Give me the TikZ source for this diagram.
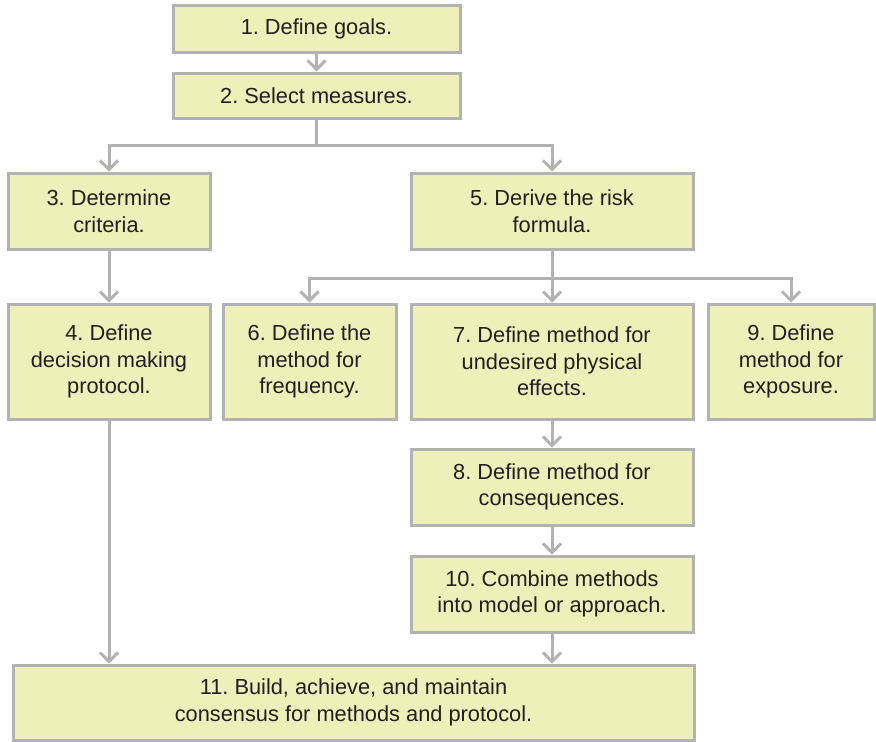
\documentclass[tikz,border=0pt]{standalone}
\usepackage{fontspec}
\setmainfont{Liberation Sans}
\usetikzlibrary{arrows.meta}
\definecolor{boxfill}{RGB}{238,240,185}
\definecolor{boxline}{RGB}{178,178,178}
\definecolor{inktext}{RGB}{35,31,32}
\frenchspacing
\begin{document}
\begin{tikzpicture}[x=1pt,y=-1pt,
  stepbox/.style={draw=boxline, line width=3pt, fill=boxfill, rectangle,
    inner sep=0pt, align=center, text=inktext,
    font=\fontsize{21.8}{26.5}\selectfont},
  link/.style={draw=boxline, line width=3pt},
  arrow/.style={link, -{Straight Barb[length=9pt,width=18pt]}}]
\useasboundingbox (0,0) rectangle (876,742);

% process steps
\node[stepbox, minimum width=287pt, minimum height=47pt] (s1) at (316.5,28.5) {1. Define goals.};
\node[stepbox, minimum width=287pt, minimum height=45pt] (s2) at (316.5,95.5) {2. Select measures.};
\node[stepbox, minimum width=202pt, minimum height=76pt] (s3) at (109,211) {3. Determine\\criteria.};
\node[stepbox, minimum width=282pt, minimum height=76pt] (s5) at (552,211) {5. Derive the risk\\formula.};
\node[stepbox, minimum width=202pt, minimum height=115pt] (s4) at (109,361.5) {4. Define\\decision making\\protocol.};
\node[stepbox, minimum width=173pt, minimum height=115pt] (s6) at (309.5,361.5) {6. Define the\\method for\\frequency.};
\node[stepbox, minimum width=282pt, minimum height=115pt] (s7) at (552,361.5) {7. Define method for\\undesired physical\\effects.};
\node[stepbox, minimum width=166pt, minimum height=115pt] (s9) at (791,361.5) {9. Define\\method for\\exposure.};
\node[stepbox, minimum width=282pt, minimum height=76pt] (s8) at (552,487) {8. Define method for\\consequences.};
\node[stepbox, minimum width=282pt, minimum height=76pt] (s10) at (552,594) {10. Combine methods\\into model or approach.};
\node[stepbox, minimum width=681pt, minimum height=75pt] (s11) at (353.5,702.5) {11. Build, achieve, and maintain\\consensus for methods and protocol.};

% connectors
\draw[arrow] (s1.south) -- (s2.north);
\draw[link] (s2.south) -- ++(0,26) coordinate (j1);
\draw[arrow] (j1) -| (s3.north);
\draw[arrow] (j1) -| (s5.north);
\draw[arrow] (s3.south) -- (s4.north);
\draw[link] (s5.south) -- ++(0,28) coordinate (j2);
\draw[arrow] (j2) -| (s6.north);
\draw[arrow] (j2) -- (s7.north);
\draw[arrow] (j2) -| (s9.north);
\draw[arrow] (s7.south) -- (s8.north);
\draw[arrow] (s8.south) -- (s10.north);
\draw[arrow] (s4.south) -- (s4.south |- s11.north);
\draw[arrow] (s10.south) -- (s11.north -| s10.south);
\end{tikzpicture}
\end{document}
